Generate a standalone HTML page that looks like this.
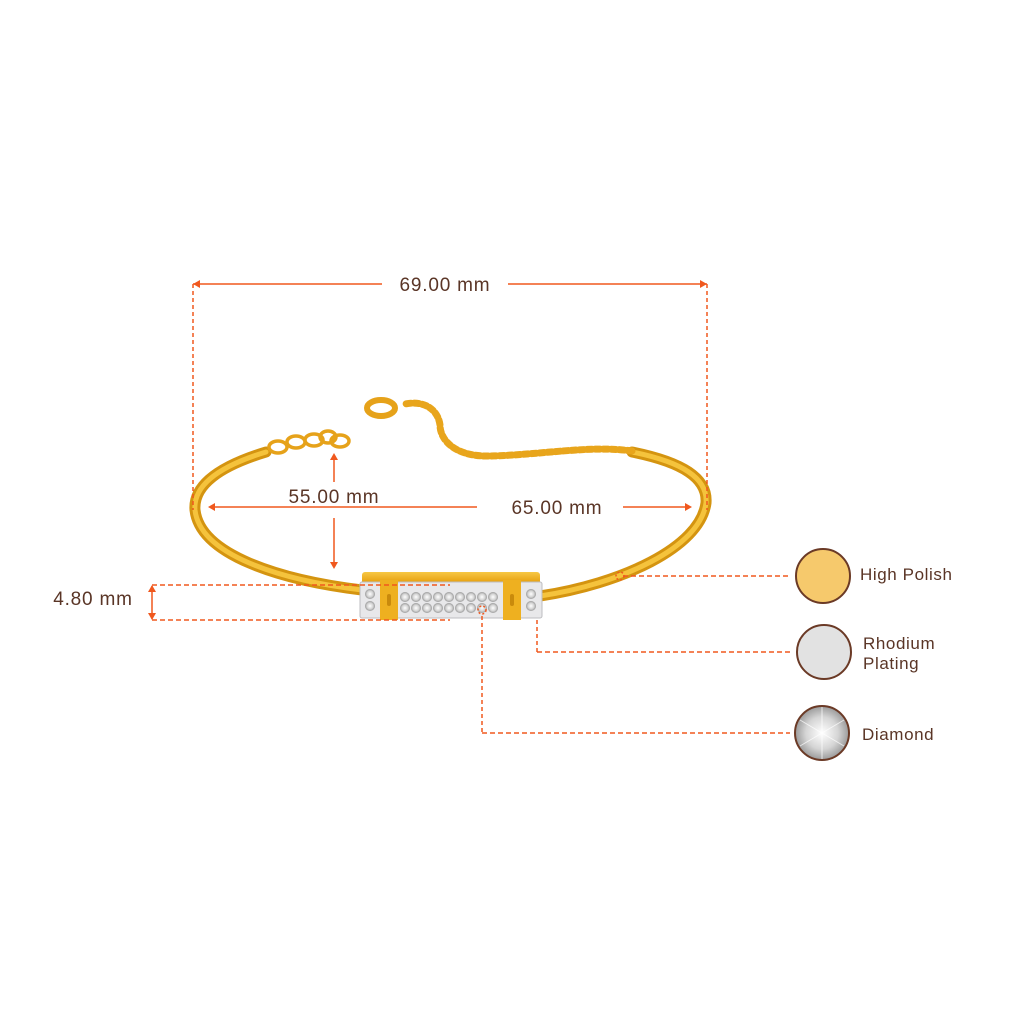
<!DOCTYPE html>
<html><head><meta charset="utf-8"><style>
html,body{margin:0;padding:0;background:#fff;}
svg{display:block;}
text{font-family:"Liberation Sans",sans-serif;fill:#5a3526;}
</style></head><body>
<svg width="1024" height="1024" viewBox="0 0 1024 1024" xmlns="http://www.w3.org/2000/svg">
<defs>
<linearGradient id="g" x1="0" y1="0" x2="0" y2="1"><stop offset="0" stop-color="#f7c845"/><stop offset="0.5" stop-color="#e9a516"/><stop offset="1" stop-color="#c98a0c"/></linearGradient>
<radialGradient id="dm" cx="0.5" cy="0.5" r="0.5"><stop offset="0" stop-color="#fff"/><stop offset="0.6" stop-color="#d5d5d5"/><stop offset="1" stop-color="#9a9a9a"/></radialGradient>
</defs>
<g fill="none" stroke-linecap="round">
<path d="M362 590 C280 580 200 555 195 510 C193 485 220 466 266 452" stroke="#d49410" stroke-width="11"/>
<path d="M362 590 C280 580 200 555 195 510 C193 485 220 466 266 452" stroke="#f5c33c" stroke-width="5"/>
<path d="M540 596 C620 584 700 548 706 503 C708 478 682 462 632 452" stroke="#d49410" stroke-width="11"/>
<path d="M540 596 C620 584 700 548 706 503 C708 478 682 462 632 452" stroke="#f5c33c" stroke-width="5"/>
<g stroke="#e6a21a" stroke-width="3.5">
<ellipse cx="278" cy="447" rx="9" ry="6"/><ellipse cx="296" cy="442" rx="9" ry="6"/><ellipse cx="314" cy="440" rx="9" ry="6"/><ellipse cx="328" cy="437" rx="8" ry="6"/><ellipse cx="340" cy="441" rx="9" ry="6"/>
</g>
<path d="M632 451 C590 445 540 455 490 456 C455 457 440 440 440 425 C438 410 425 400 405 404" stroke="#e8a51c" stroke-width="7" stroke-dasharray="5 3"/>
<ellipse cx="381" cy="408" rx="14" ry="8" stroke="#e6a21a" stroke-width="6"/>
</g>
<rect x="362" y="572" width="178" height="18" rx="3" fill="url(#g)"/>
<rect x="360" y="582" width="182" height="36" rx="2" fill="#e8e8ea" stroke="#bdbdc0"/>
<rect x="380" y="580" width="18" height="40" fill="#eeb020"/>
<rect x="503" y="580" width="18" height="40" fill="#eeb020"/>
<rect x="387" y="594" width="4" height="12" rx="2" fill="#c98a0c"/>
<rect x="510" y="594" width="4" height="12" rx="2" fill="#c98a0c"/>
<g fill="url(#dm)">
<circle cx="370" cy="594" r="5"/><circle cx="370" cy="606" r="5"/>
<circle cx="531" cy="594" r="5"/><circle cx="531" cy="606" r="5"/>
<circle cx="405" cy="597" r="5"/><circle cx="416" cy="597" r="5"/><circle cx="427" cy="597" r="5"/><circle cx="438" cy="597" r="5"/><circle cx="449" cy="597" r="5"/><circle cx="460" cy="597" r="5"/><circle cx="471" cy="597" r="5"/><circle cx="482" cy="597" r="5"/><circle cx="493" cy="597" r="5"/>
<circle cx="405" cy="608" r="5"/><circle cx="416" cy="608" r="5"/><circle cx="427" cy="608" r="5"/><circle cx="438" cy="608" r="5"/><circle cx="449" cy="608" r="5"/><circle cx="460" cy="608" r="5"/><circle cx="471" cy="608" r="5"/><circle cx="482" cy="608" r="5"/><circle cx="493" cy="608" r="5"/>
</g>
<g stroke="#f0581e" stroke-width="1.5" fill="none">
<line x1="193" y1="284" x2="382" y2="284"/><line x1="508" y1="284" x2="707" y2="284"/>
<line x1="193" y1="284" x2="193" y2="510" stroke-dasharray="4 3"/>
<line x1="707" y1="284" x2="707" y2="510" stroke-dasharray="4 3"/>
<line x1="210" y1="507" x2="477" y2="507"/><line x1="623" y1="507" x2="690" y2="507"/>
<line x1="334" y1="455" x2="334" y2="482"/><line x1="334" y1="518" x2="334" y2="567"/>
<line x1="152" y1="586" x2="152" y2="619"/>
<line x1="152" y1="585" x2="450" y2="585" stroke-dasharray="5 3"/>
<line x1="152" y1="620" x2="450" y2="620" stroke-dasharray="5 3"/>
<line x1="623" y1="576" x2="790" y2="576" stroke-dasharray="5 3"/>
<circle cx="620" cy="576" r="4" stroke-dasharray="2 2"/>
<line x1="537" y1="620" x2="537" y2="652" stroke-dasharray="4 3"/>
<line x1="537" y1="652" x2="790" y2="652" stroke-dasharray="5 3"/>
<circle cx="482" cy="610" r="4" stroke-dasharray="2 2"/>
<line x1="482" y1="616" x2="482" y2="733" stroke-dasharray="4 3"/>
<line x1="482" y1="733" x2="790" y2="733" stroke-dasharray="5 3"/>
</g>
<g fill="#f0581e">
<path d="M193 284 l7 -4 v8z"/><path d="M707 284 l-7 -4 v8z"/>
<path d="M208 507 l7 -4 v8z"/><path d="M692 507 l-7 -4 v8z"/>
<path d="M334 453 l-4 7 h8z"/><path d="M334 569 l-4 -7 h8z"/>
<path d="M152 585 l-4 7 h8z"/><path d="M152 620 l-4 -7 h8z"/>
</g>
<g font-size="19" letter-spacing="0.8" text-anchor="middle">
<text x="445" y="291">69.00 mm</text>
<text x="334" y="503">55.00 mm</text>
<text x="557" y="514">65.00 mm</text>
<text x="93" y="605">4.80 mm</text>
</g>
<circle cx="823" cy="576" r="27" fill="#f6c96c" stroke="#6b3a26" stroke-width="2"/>
<circle cx="824" cy="652" r="27" fill="#e2e2e2" stroke="#6b3a26" stroke-width="2"/>
<circle cx="822" cy="733" r="27" fill="url(#dm)" stroke="#6b3a26" stroke-width="2"/>
<g stroke="#ffffff" stroke-width="1" opacity="0.7">
<line x1="800" y1="720" x2="844" y2="746"/><line x1="822" y1="707" x2="822" y2="759"/><line x1="800" y1="746" x2="844" y2="720"/>
</g>
<g font-size="17" letter-spacing="0.6">
<text x="860" y="580">High Polish</text>
<text x="863" y="649">Rhodium</text>
<text x="863" y="669">Plating</text>
<text x="862" y="740">Diamond</text>
</g>
</svg>
</body></html>
